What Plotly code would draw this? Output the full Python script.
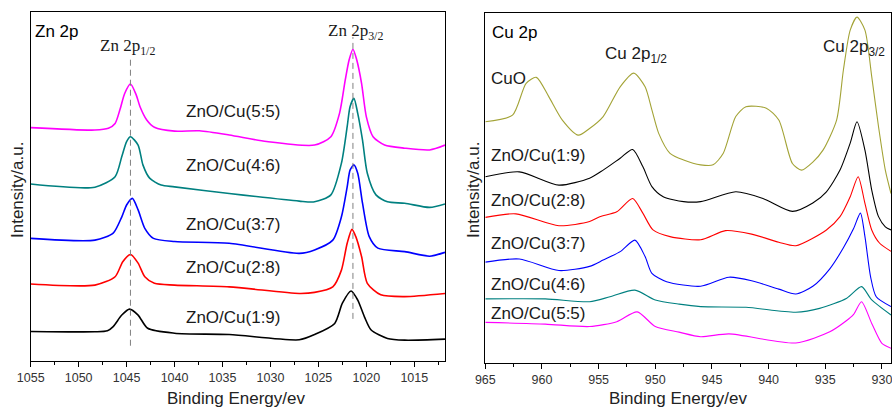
import plotly.graph_objects as go

# ---------------- Zn 2p (left panel) ----------------
zn_labels = ["ZnO/Cu(1:9)", "ZnO/Cu(2:8)", "ZnO/Cu(3:7)", "ZnO/Cu(4:6)", "ZnO/Cu(5:5)"]

zn_19_x = [1055, 1048.3, 1047.0, 1046.4, 1045.5, 1044.7, 1043.8, 1042.8, 1040.0, 1034.3, 1027.0, 1025.4, 1023.3, 1022.5, 1021.6, 1020.9, 1020.2, 1019.5, 1017.8, 1016.0, 1011.8]
zn_19_y = [8.4, 8.3, 8.6, 9.8, 13.1, 14.8, 13.1, 9.3, 7.9, 7.5, 6.0, 7.5, 10.7, 16.5, 20.0, 17.4, 12.6, 8.8, 6.4, 5.9, 6.2]

zn_28_x = [1055, 1048.3, 1046.2, 1045.4, 1044.6, 1043.8, 1043.1, 1042.1, 1040.0, 1034.3, 1027.0, 1025.4, 1023.5, 1022.6, 1022.0, 1021.5, 1021.1, 1020.5, 1019.9, 1018.5, 1016.0, 1011.8]
zn_28_y = [22.0, 21.7, 24.1, 28.4, 30.5, 28.0, 24.1, 22.2, 21.7, 21.2, 19.3, 19.6, 21.2, 26.0, 33.7, 37.7, 35.6, 29.9, 22.2, 18.9, 18.4, 19.3]

zn_37_x = [1055, 1048.3, 1046.4, 1045.5, 1045.0, 1044.4, 1043.8, 1043.1, 1042.2, 1040.0, 1034.3, 1027.0, 1025.4, 1023.5, 1022.6, 1022.0, 1021.7, 1021.3, 1020.9, 1020.4, 1019.7, 1018.8, 1016.0, 1013.4, 1011.8]
zn_37_y = [35.1, 34.6, 36.6, 41.3, 44.7, 46.6, 43.3, 38.0, 35.1, 34.2, 33.7, 30.8, 31.8, 34.6, 41.3, 49.9, 54.7, 56.2, 53.8, 45.2, 35.6, 32.3, 31.3, 30.0, 31.1]

zn_46_x = [1055, 1048.3, 1046.2, 1045.5, 1045.0, 1044.6, 1043.8, 1043.3, 1042.6, 1041.4, 1040.0, 1034.3, 1027.0, 1025.4, 1023.7, 1022.6, 1022.0, 1021.7, 1021.3, 1020.9, 1020.4, 1019.9, 1019.0, 1017.8, 1016.0, 1013.4, 1011.8]
zn_46_y = [50.7, 49.8, 52.8, 58.6, 62.9, 64.3, 61.9, 56.2, 52.4, 50.4, 49.9, 48.0, 45.8, 45.6, 47.6, 56.7, 67.2, 72.9, 75.3, 71.0, 63.3, 53.8, 47.6, 45.6, 45.2, 44.0, 45.0]

zn_55_x = [1055, 1048.3, 1046.9, 1046.2, 1045.7, 1045.2, 1044.6, 1044.0, 1043.6, 1042.9, 1042.1, 1040.0, 1037.4, 1034.3, 1030.4, 1025.4, 1023.7, 1022.8, 1022.2, 1021.8, 1021.4, 1021.0, 1020.5, 1020.0, 1019.3, 1018.1, 1016.0, 1013.4, 1011.8]
zn_55_y = [66.9, 66.2, 66.7, 68.1, 72.0, 76.7, 79.4, 76.3, 72.9, 69.1, 67.0, 65.9, 66.0, 64.8, 62.9, 61.9, 64.3, 71.0, 80.6, 86.3, 89.4, 86.3, 79.6, 70.0, 64.3, 61.9, 61.0, 60.5, 61.9]

zn_peaks = [1044.6, 1021.4]
zn_peak_y0 = [4.3, 12.0]
zn_peak_y1 = [86.9, 92.9]

# ---------------- Cu 2p (right panel) ----------------
cu_labels = ["CuO", "ZnO/Cu(1:9)", "ZnO/Cu(2:8)", "ZnO/Cu(3:7)", "ZnO/Cu(4:6)", "ZnO/Cu(5:5)"]

cuo_x = [965, 962.6, 961.4, 960.5, 959.4, 958.2, 956.8, 955.8, 954.6, 953.1, 951.9, 950.9, 950.3, 949.7, 948.7, 947.5, 946.0, 944.9, 944.0, 942.9, 942.0, 940.2, 939.1, 937.9, 937.1, 936.1, 935.2, 934.0, 933.4, 932.8, 932.2, 931.5, 930.9, 930.3, 929.7, 929.2]
cuo_y = [69.0, 70.9, 80.0, 81.7, 76.2, 69.5, 65.2, 67.1, 70.5, 79.0, 82.9, 79.0, 72.4, 65.7, 60.0, 58.1, 56.7, 56.7, 60.0, 70.5, 73.3, 72.9, 69.5, 57.1, 55.2, 57.5, 60.9, 69.5, 83.8, 95.2, 98.9, 95.2, 81.9, 67.6, 55.2, 48.5]

cu_19_x = [965, 962.0, 958.5, 955.8, 954.6, 953.1, 952.0, 951.1, 950.3, 949.3, 947.5, 946.0, 942.9, 940.5, 937.9, 936.1, 934.9, 933.7, 932.8, 932.2, 931.5, 930.9, 930.3, 929.7, 929.2]
cu_19_y = [53.3, 54.7, 50.9, 52.9, 55.2, 58.6, 61.1, 56.2, 50.5, 47.6, 46.2, 46.2, 49.0, 47.1, 43.4, 45.8, 49.0, 55.2, 62.9, 69.0, 60.9, 49.5, 41.9, 39.0, 38.1]

cu_28_x = [965, 962.3, 958.5, 955.8, 954.9, 953.4, 952.0, 951.1, 950.2, 948.7, 946.0, 943.8, 941.5, 939.1, 937.6, 934.9, 933.7, 932.8, 932.1, 931.5, 930.9, 930.2, 929.2]
cu_28_y = [41.7, 42.7, 39.3, 40.5, 41.9, 43.3, 47.1, 42.9, 38.1, 36.2, 35.3, 37.9, 36.9, 34.6, 33.6, 38.1, 41.9, 47.6, 53.3, 45.7, 38.1, 34.3, 32.0]

cu_37_x = [965, 962.0, 958.5, 955.8, 954.6, 953.1, 951.8, 950.9, 950.3, 949.0, 946.0, 943.5, 941.5, 939.1, 937.6, 936.1, 934.6, 933.4, 932.5, 931.9, 931.5, 931.0, 930.5, 929.2]
cu_37_y = [28.9, 29.8, 26.5, 27.7, 29.5, 31.9, 35.2, 30.5, 25.7, 23.3, 22.0, 24.6, 23.6, 21.2, 19.8, 22.0, 27.0, 33.0, 38.5, 42.9, 36.2, 24.7, 19.0, 16.2]

cu_46_x = [965, 959.7, 955.8, 954.0, 951.8, 950.0, 947.9, 946.0, 942.0, 937.6, 935.5, 933.1, 931.8, 930.9, 929.2]
cu_46_y = [18.4, 18.4, 17.6, 19.0, 20.9, 18.1, 16.9, 16.2, 16.0, 14.6, 15.7, 18.6, 21.9, 18.1, 13.8]

cu_55_x = [965, 959.7, 955.8, 953.4, 951.6, 950.0, 947.9, 946.0, 943.5, 937.6, 934.6, 933.2, 932.5, 931.8, 930.9, 930.0, 929.2]
cu_55_y = [11.7, 11.2, 10.5, 11.9, 14.7, 10.5, 8.9, 7.6, 8.4, 5.8, 9.0, 12.0, 14.0, 17.6, 11.4, 5.7, 4.3]

# label anchor positions (data units)
zn_label_x = 1033.9
zn_label_y = [12.5, 26.8, 39.0, 55.9, 71.6]
cu_label_x = 964.7
cu_label_y = [81.5, 59.5, 46.4, 34.3, 22.4, 14.1]

colors = ["#000000", "#ff0000", "#0000ff", "#008080", "#ff00ff"]
cuo_color = "#a3a336"

fig = go.Figure()

zn_series = [(zn_19_x, zn_19_y), (zn_28_x, zn_28_y), (zn_37_x, zn_37_y), (zn_46_x, zn_46_y), (zn_55_x, zn_55_y)]
for (xs, ys), c, name in zip(zn_series, colors, zn_labels):
    fig.add_trace(go.Scatter(x=xs, y=ys, mode="lines", line=dict(color=c, width=1.6, shape="spline", smoothing=0.7),
                             name=name, xaxis="x", yaxis="y", showlegend=False))

for px, y0, y1 in zip(zn_peaks, zn_peak_y0, zn_peak_y1):
    fig.add_trace(go.Scatter(x=[px, px], y=[y0, y1], mode="lines", line=dict(color="#808080", width=1, dash="6px,4px"),
                             xaxis="x", yaxis="y", showlegend=False, hoverinfo="skip"))

cu_series = [(cuo_x, cuo_y), (cu_19_x, cu_19_y), (cu_28_x, cu_28_y), (cu_37_x, cu_37_y), (cu_46_x, cu_46_y), (cu_55_x, cu_55_y)]
cu_colors = [cuo_color] + colors
for (xs, ys), c, name in zip(cu_series, cu_colors, cu_labels):
    fig.add_trace(go.Scatter(x=xs, y=ys, mode="lines", line=dict(color=c, width=1.1, shape="spline", smoothing=0.7),
                             name=name, xaxis="x2", yaxis="y2", showlegend=False))

ann = []
sans = "Liberation Sans, Arial, sans-serif"
serif = "Liberation Serif, Times New Roman, serif"
for name, yv in zip(zn_labels, zn_label_y):
    ann.append(dict(x=zn_label_x, y=yv, xref="x", yref="y", text=name, showarrow=False,
                    font=dict(family=sans, size=17, color="#1a1a1a"), xanchor="center", yanchor="middle"))
for name, yv in zip(cu_labels, cu_label_y):
    ann.append(dict(x=cu_label_x, y=yv, xref="x2", yref="y2", text=name, showarrow=False,
                    font=dict(family=sans, size=17, color="#1a1a1a"), xanchor="left", yanchor="middle"))

ann += [
    dict(x=1054.8, y=94.6, xref="x", yref="y", text="Zn 2p", showarrow=False, xanchor="left", yanchor="middle",
         font=dict(family=sans, size=17, color="#000")),
    dict(x=1044.9, y=90.0, xref="x", yref="y", text="Zn 2p<sub>1/2</sub>", showarrow=False, xanchor="center", yanchor="middle",
         font=dict(family=serif, size=17, color="#1a1a1a")),
    dict(x=1021.1, y=94.3, xref="x", yref="y", text="Zn 2p<sub>3/2</sub>", showarrow=False, xanchor="center", yanchor="middle",
         font=dict(family=serif, size=17, color="#1a1a1a")),
    dict(x=964.6, y=94.4, xref="x2", yref="y2", text="Cu 2p", showarrow=False, xanchor="left", yanchor="middle",
         font=dict(family=sans, size=17, color="#000")),
    dict(x=951.7, y=88.1, xref="x2", yref="y2", text="Cu 2p<sub>1/2</sub>", showarrow=False, xanchor="center", yanchor="middle",
         font=dict(family=sans, size=17, color="#1a1a1a")),
    dict(x=932.5, y=90.1, xref="x2", yref="y2", text="Cu 2p<sub>3/2</sub>", showarrow=False, xanchor="center", yanchor="middle",
         font=dict(family=sans, size=17, color="#1a1a1a")),
    # axis titles
    dict(x=236 / 892, y=1 - 398 / 408, xref="paper", yref="paper", text="Binding Energy/ev", showarrow=False,
         xanchor="center", yanchor="middle", font=dict(family=sans, size=17, color="#222")),
    dict(x=678 / 892, y=1 - 398 / 408, xref="paper", yref="paper", text="Binding Energy/ev", showarrow=False,
         xanchor="center", yanchor="middle", font=dict(family=sans, size=17, color="#222")),
    dict(x=17 / 892, y=1 - 190 / 408, xref="paper", yref="paper", text="Intensity/a.u.", showarrow=False, textangle=-90,
         xanchor="center", yanchor="middle", font=dict(family=sans, size=17, color="#222")),
    dict(x=473 / 892, y=1 - 190 / 408, xref="paper", yref="paper", text="Intensity/a.u.", showarrow=False, textangle=-90,
         xanchor="center", yanchor="middle", font=dict(family=sans, size=17, color="#222")),
]

xaxis_common = dict(showline=True, linecolor="#000", linewidth=1.3, mirror=True, ticks="outside", ticklen=5,
                    tickcolor="#000", showgrid=False, zeroline=False, dtick=5, automargin=False,
                    ticklabeloverflow="allow",
                    tickfont=dict(family=sans, size=12.5, color="#333"),
                    minor=dict(ticks="outside", ticklen=3, dtick=2.5, tickcolor="#000", showgrid=False))
yaxis_common = dict(showline=True, linecolor="#000", linewidth=1.3, mirror=True, ticks="", showticklabels=False,
                    showgrid=False, zeroline=False, range=[0, 100], automargin=False)

fig.update_layout(
    template="none",
    width=892, height=408, margin=dict(l=0, r=0, t=0, b=0, pad=0, autoexpand=False),
    paper_bgcolor="white", plot_bgcolor="white", showlegend=False,
    xaxis=dict(domain=[30.7 / 892, 445 / 892], range=[1055, 1011.8], tick0=1055, anchor="y", **xaxis_common),
    yaxis=dict(domain=[1 - 360.7 / 408, 1 - 12.3 / 408], anchor="x", **yaxis_common),
    xaxis2=dict(domain=[485.3 / 892, 891 / 892], range=[965, 929.2], tick0=965, anchor="y2", **xaxis_common),
    yaxis2=dict(domain=[1 - 363.3 / 408, 1 - 13.3 / 408], anchor="x2", **yaxis_common),
    annotations=ann,
)

fig.write_html("out.html", post_script="document.body.style.margin='0';document.body.style.padding='0';")
